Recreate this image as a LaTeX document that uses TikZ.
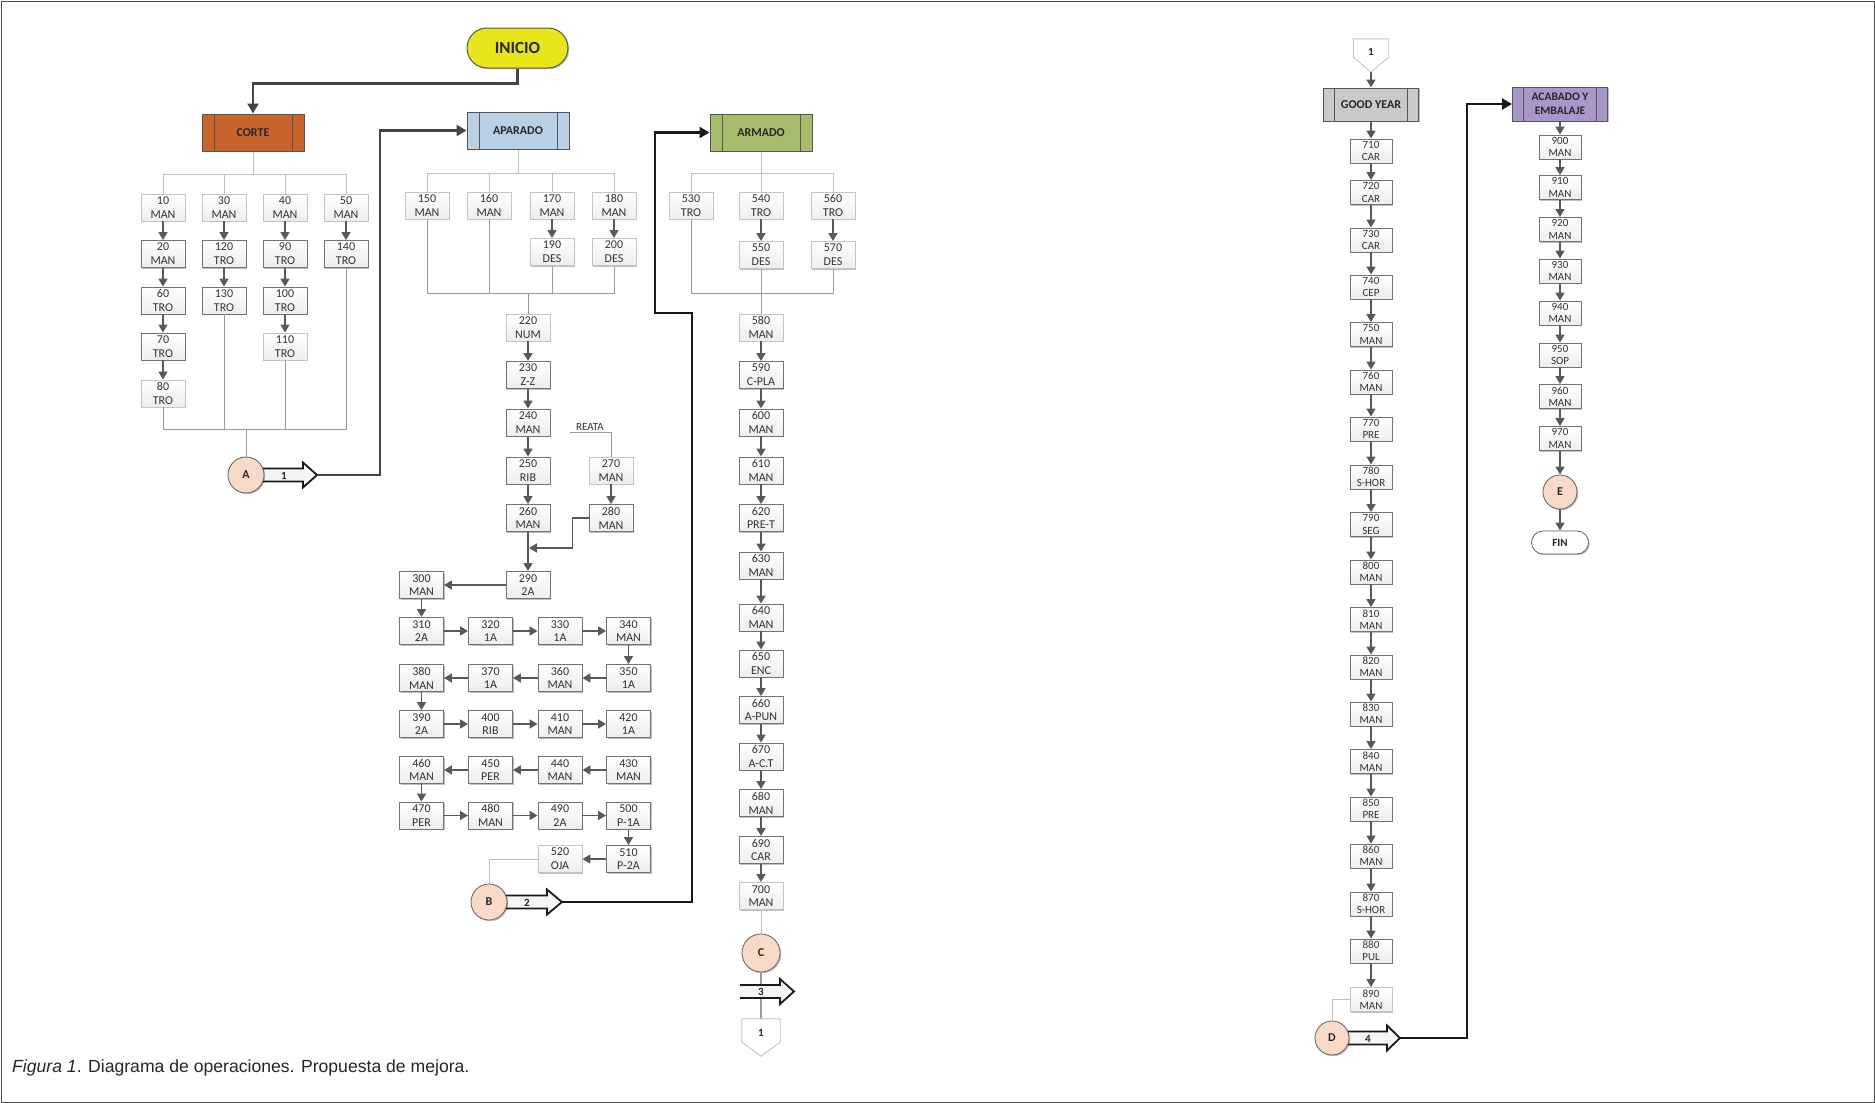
\documentclass[tikz,border=0pt]{standalone}
\usepackage{fontspec}
\setmainfont{Carlito}
\newfontfamily\capfont{Liberation Sans}
\usetikzlibrary{arrows.meta,shadows}
\definecolor{corte}{HTML}{C9642C}
\definecolor{apar}{HTML}{B9D0E7}
\definecolor{arm}{HTML}{A6BC6C}
\definecolor{gyc}{HTML}{C8C9CA}
\definecolor{acab}{HTML}{A997CC}
\definecolor{inicio}{HTML}{E9E51B}
\definecolor{peach}{HTML}{F9DAC6}
\definecolor{arrc}{HTML}{595959}
\definecolor{bigc}{HTML}{454545}
\definecolor{boxd}{HTML}{737373}
\definecolor{boxl}{HTML}{C4C4C4}
\definecolor{boxbot}{HTML}{EDEDED}
\definecolor{tlc}{HTML}{C0C0C0}
\definecolor{tlc2}{HTML}{9A9A9A}
\definecolor{txt}{HTML}{333333}
\definecolor{hdrline}{HTML}{555555}
\definecolor{hdrtxt}{HTML}{262626}
\newcommand\blkarr[5]{%
  \fill[blkfill] (#1,#4-6.5) -- (#2,#4-6.5) -- (#2,#4-12.5) -- (#3,#4) -- (#2,#4+12.5) -- (#2,#4+6.5) -- (#1,#4+6.5) -- cycle;
  \draw[blkline] (#1,#4-6.5) -- (#2,#4-6.5) -- (#2,#4-12.5) -- (#3,#4) -- (#2,#4+12.5) -- (#2,#4+6.5) -- (#1,#4+6.5);
  \coordinate (#5) at (#3,#4);}
\begin{document}
\begin{tikzpicture}[x=1pt,y=-1pt,
  shd/.style={drop shadow={shadow xshift=1.2pt,shadow yshift=-1.2pt,opacity=0.25,fill=black}},
  opbox/.style={rectangle,draw=boxd,line width=0.9pt,top color=white,bottom color=boxbot,
    minimum width=44pt,minimum height=27pt,inner sep=0pt,align=center,
    font=\fontsize{12}{13.8}\selectfont,text=txt,shd},
  lbox/.style={opbox,draw=boxl},
  sbox/.style={opbox,minimum width=42pt,minimum height=24pt,font=\fontsize{11}{12.2}\selectfont},
  slbox/.style={sbox,draw=boxl},
  sect/.style={rectangle,draw=hdrline,line width=1pt,minimum width=102pt,minimum height=37pt,
    inner sep=1pt,align=center,font=\bfseries\fontsize{12}{14}\selectfont,text=hdrtxt,shd,
    path picture={\draw[hdrline,line width=1pt]
      ([xshift=#1]path picture bounding box.north west) -- ([xshift=#1]path picture bounding box.south west)
      ([xshift=-#1]path picture bounding box.north east) -- ([xshift=-#1]path picture bounding box.south east);}},
  sect/.default=12pt,
  circ/.style={circle,draw=gray!75!black,line width=0.8pt,fill=peach,minimum size=36pt,inner sep=0pt,
    font=\bfseries\fontsize{12}{13}\selectfont,text=hdrtxt,shd},
  arr/.style={draw=arrc,line width=1.6pt,-{Triangle[length=8pt,width=9pt]}},
  big/.style={draw=bigc,line width=2.2pt,-{Triangle[length=10pt,width=11pt]}},
  bigk/.style={draw=black!90,line width=2.4pt,-{Triangle[length=10pt,width=11pt]}},
  tl/.style={draw=tlc,line width=0.9pt},
  tl2/.style={draw=tlc2,line width=0.9pt},
  blkfill/.style={fill=gray!8},
  blkline/.style={draw=black!90,line width=1.8pt,line join=miter},
  lbl/.style={font=\bfseries\fontsize{11}{12}\selectfont,text=hdrtxt,inner sep=0pt},
  offp/.style={draw=boxl,line width=0.9pt,fill=white}
]
\useasboundingbox (0,0) rectangle (1875,1103);
\draw[gray!60!black,line width=1pt] (1,1) rectangle (1874,1102);

% ---------- headers ----------
\node[draw=hdrline,line width=1pt,fill=inicio,rounded corners=20pt,minimum width=101pt,minimum height=40pt,
  font=\bfseries\fontsize{17}{19}\selectfont,text=black!85,shd] (inicio) at (517.5,48) {INICIO};
\node[sect,fill=corte] (corte) at (253,132.5) {CORTE};
\node[sect,fill=apar] (aparado) at (518,130.5) {APARADO};
\node[sect,fill=arm] (armado) at (761,132.5) {ARMADO};
\node[sect=11pt,fill=gyc,minimum width=95pt,minimum height=33pt] (gy) at (1371,104.5) {GOOD YEAR};
\node[sect=11pt,fill=acab,minimum width=95pt,minimum height=34pt,font=\bfseries\fontsize{11.5}{13.5}\selectfont] (acab) at (1560,104) {ACABADO Y\\EMBALAJE};

% ---------- CORTE ----------
\node[lbox] (n10) at (163,207.5) {10\\MAN};
\node[opbox] (n20) at (163,254) {20\\MAN};
\node[opbox] (n60) at (163,300.5) {60\\TRO};
\node[opbox] (n70) at (163,346.5) {70\\TRO};
\node[lbox] (n80) at (163,393.5) {80\\TRO};
\node[lbox] (n30) at (224,207.5) {30\\MAN};
\node[opbox] (n120) at (224,254) {120\\TRO};
\node[opbox] (n130) at (224,300.5) {130\\TRO};
\node[lbox] (n40) at (285,207.5) {40\\MAN};
\node[opbox] (n90) at (285,254) {90\\TRO};
\node[opbox] (n100) at (285,300.5) {100\\TRO};
\node[lbox] (n110) at (285,346.5) {110\\TRO};
\node[lbox] (n50) at (346,207.5) {50\\MAN};
\node[opbox] (n140) at (346,254) {140\\TRO};

% ---------- APARADO ----------
\node[lbox] (n150) at (427,205.5) {150\\MAN};
\node[lbox] (n160) at (489,205.5) {160\\MAN};
\node[lbox] (n170) at (552,205.5) {170\\MAN};
\node[lbox] (n180) at (614,205.5) {180\\MAN};
\node[lbox] (n190) at (552,252) {190\\DES};
\node[lbox] (n200) at (614,252) {200\\DES};
\node[lbox] (n220) at (528,327.5) {220\\NUM};
\node[opbox] (n230) at (528,375) {230\\Z-Z};
\node[opbox] (n240) at (528,422.5) {240\\MAN};
\node[opbox] (n250) at (528,470.5) {250\\RIB};
\node[opbox] (n260) at (528,518) {260\\MAN};
\node[lbox] (n270) at (611,470.5) {270\\MAN};
\node[opbox] (n280) at (611,518) {280\\MAN};
\node[opbox] (n290) at (528,585) {290\\2A};
\node[opbox] (n300) at (421.5,585) {300\\MAN};
\node[opbox] (n310) at (421.5,631) {310\\2A};
\node[opbox] (n320) at (490.5,631) {320\\1A};
\node[opbox] (n330) at (560,631) {330\\1A};
\node[opbox] (n340) at (628.5,631) {340\\MAN};
\node[opbox] (n380) at (421.5,678) {380\\MAN};
\node[opbox] (n370) at (490.5,678) {370\\1A};
\node[opbox] (n360) at (560,678) {360\\MAN};
\node[opbox] (n350) at (628.5,678) {350\\1A};
\node[opbox] (n390) at (421.5,724) {390\\2A};
\node[opbox] (n400) at (490.5,724) {400\\RIB};
\node[opbox] (n410) at (560,724) {410\\MAN};
\node[opbox] (n420) at (628.5,724) {420\\1A};
\node[opbox] (n460) at (421.5,770) {460\\MAN};
\node[opbox] (n450) at (490.5,770) {450\\PER};
\node[opbox] (n440) at (560,770) {440\\MAN};
\node[opbox] (n430) at (628.5,770) {430\\MAN};
\node[opbox] (n470) at (421.5,815.5) {470\\PER};
\node[opbox] (n480) at (490.5,815.5) {480\\MAN};
\node[opbox] (n490) at (560,815.5) {490\\2A};
\node[opbox] (n500) at (628.5,815.5) {500\\P-1A};
\node[lbox] (n520) at (560,859) {520\\OJA};
\node[opbox] (n510) at (628.5,859) {510\\P-2A};
\node[font=\fontsize{11}{12}\selectfont,text=txt,anchor=base,inner sep=0pt] (reata) at (590,430.5) {REATA};

% ---------- ARMADO ----------
\node[lbox] (n530) at (691,205.5) {530\\TRO};
\node[lbox] (n540) at (761,205.5) {540\\TRO};
\node[lbox] (n560) at (833,205.5) {560\\TRO};
\node[lbox] (n550) at (761,255) {550\\DES};
\node[lbox] (n570) at (833,255) {570\\DES};
\node[lbox] (n580) at (761,327.5) {580\\MAN};
\node[opbox] (n590) at (761,375) {590\\C-PLA};
\node[opbox] (n600) at (761,422.5) {600\\MAN};
\node[opbox] (n610) at (761,470.5) {610\\MAN};
\node[opbox] (n620) at (761,518) {620\\PRE-T};
\node[opbox] (n630) at (761,565.5) {630\\MAN};
\node[opbox] (n640) at (761,617.5) {640\\MAN};
\node[opbox] (n650) at (761,663.5) {650\\ENC};
\node[opbox] (n660) at (761,710) {660\\A-PUN};
\node[opbox] (n670) at (761,756.5) {670\\A-C.T};
\node[opbox] (n680) at (761,803) {680\\MAN};
\node[opbox] (n690) at (761,850) {690\\CAR};
\node[lbox] (n700) at (761,896) {700\\MAN};

% ---------- GOOD YEAR ----------
\foreach \n/\t/\y in {710/CAR/151,720/CAR/192.5,730/CAR/240,740/CEP/287,750/MAN/334.5,760/MAN/382,
  770/PRE/429,780/S-HOR/477,790/SEG/524.5,800/MAN/572,810/MAN/619.5,820/MAN/667,830/MAN/714,
  840/MAN/761.5,850/PRE/809,860/MAN/856,870/S-HOR/904,880/PUL/951}
  \node[sbox] (n\n) at (1371,\y) {\n\\\t};
\node[slbox] (n890) at (1371,999.5) {890\\MAN};

% ---------- ACABADO ----------
\foreach \n/\t/\y in {900/MAN/147,910/MAN/187.5,920/MAN/229.5,930/MAN/271,940/MAN/313,950/SOP/355,
  960/MAN/396.5,970/MAN/438.5}
  \node[sbox] (n\n) at (1560,\y) {\n\\\t};
\node[draw=gray!75!black,line width=0.8pt,fill=white,rounded corners=11.5pt,minimum width=57pt,minimum height=23pt,
  font=\bfseries\fontsize{11}{12}\selectfont,text=hdrtxt,shd] (fin) at (1560,542.5) {FIN};

% ---------- tree lines ----------
\coordinate (ct) at (0,174);
\coordinate (cb) at (0,429);
\coordinate (at) at (0,173);
\coordinate (ab) at (0,293);
\draw[tl] (corte.south) -- (corte.south |- ct);
\draw[tl] (n10.north) |- (n50.north |- ct) -- (n50.north);
\draw[tl] (n30.north) -- (n30.north |- ct);
\draw[tl] (n40.north) -- (n40.north |- ct);
\draw[tl2] (n80.south) |- (n140.south |- cb) -- (n140.south);
\draw[tl2] (n130.south) -- (n130.south |- cb);
\draw[tl2] (n110.south) -- (n110.south |- cb);

\draw[tl] (aparado.south) -- (aparado.south |- at);
\draw[tl] (n150.north) |- (n180.north |- at) -- (n180.north);
\draw[tl] (n160.north) -- (n160.north |- at);
\draw[tl] (n170.north) -- (n170.north |- at);
\draw[tl2] (n150.south) |- (n200.south |- ab) -- (n200.south);
\draw[tl2] (n160.south) -- (n160.south |- ab);
\draw[tl2] (n190.south) -- (n190.south |- ab);
\draw[tl2] (n220.north) -- (n220.north |- ab);

\draw[tl] (armado.south) -- (armado.south |- at);
\draw[tl] (n530.north) |- (n560.north |- at) -- (n560.north);
\draw[tl] (n540.north) -- (n540.north |- at);
\draw[tl2] (n530.south) |- (n570.south |- ab) -- (n570.south);
\draw[tl2] (n550.south) -- (n550.south |- ab);
\draw[tl2] (n580.north) -- (n580.north |- ab);

\coordinate (rl) at (570,432.5);
\draw[tl2] (rl) -| (n270.north);

% ---------- chain arrows ----------
\foreach \a/\b in {10/20,20/60,60/70,70/80,30/120,120/130,40/90,90/100,100/110,50/140,
  170/190,180/200,220/230,230/240,240/250,250/260,260/290,270/280,290/300,300/310,310/320,320/330,
  330/340,340/350,350/360,360/370,370/380,380/390,390/400,400/410,410/420,430/440,440/450,450/460,
  460/470,470/480,480/490,490/500,500/510,510/520,
  540/550,560/570,580/590,590/600,600/610,610/620,620/630,630/640,640/650,650/660,660/670,670/680,680/690,690/700,
  710/720,720/730,730/740,740/750,750/760,760/770,770/780,780/790,790/800,800/810,810/820,820/830,830/840,
  840/850,850/860,860/870,870/880,880/890,
  900/910,910/920,920/930,930/940,940/950,950/960,960/970}
  \draw[arr] (n\a) -- (n\b);
\coordinate (mg) at (529,548);
\draw[arr] (n280.west) -- ++(-16,0) |- (mg);
\draw[arr] (gy) -- (n710);
\draw[arr] (acab) -- (n900);

% ---------- off-page connectors ----------
\node[minimum width=38pt,minimum height=23pt,inner sep=0pt] (off2) at (761,1030.5) {};
\node[minimum width=35pt,minimum height=18pt,inner sep=0pt] (off1) at (1371,48) {};

\node[circ,minimum size=38pt] (C) at (761,953) {C};
\draw[tl] (n700.south) -- (C.north);
\draw[tl2,line width=1.4pt] (C.south) -- (off2.north);

% ---------- block arrows ----------
\blkarr{246}{303}{317}{475}{atip}
\blkarr{489}{547}{562}{902}{btip}
\blkarr{740}{780}{794}{991.5}{ctip}
\blkarr{1332}{1387}{1400}{1038}{dtip}
\node[lbl] (l1) at (284,475.5) {1};
\node[lbl] (l2) at (527,902.5) {2};
\node[lbl] (l3) at (761,992) {3};
\node[lbl] (l4) at (1368,1038.5) {4};

\draw[offp] (off2.north west) -- (off2.north east) -- (off2.south east) -- ([yshift=-14pt]off2.south) -- (off2.south west) -- cycle;
\node[lbl] (o2l) at (761,1033) {1};
\draw[offp] (off1.north west) -- (off1.north east) -- (off1.south east) -- ([yshift=-15pt]off1.south) -- (off1.south west) -- cycle;
\node[lbl] (o1l) at (1371,52) {1};
\draw[arr] ([yshift=-15pt]off1.south) -- (gy.north);

% ---------- circles ----------
\node[circ] (A) at (246,475) {A};
\node[circ] (B) at (489,902) {B};
\node[circ,minimum size=34pt] (D) at (1332,1038) {D};
\node[circ,minimum size=34pt] (E) at (1560,492) {E};
\draw[tl2] (A.north) -- (A.north |- cb);
\draw[tl] (n520.west) -| (B.north);
\draw[tl] (n890.west) -| (D.north);
\draw[arr] (n970) -- (E);
\draw[arr] (E) -- (fin);

% ---------- main connectors ----------
\draw[big] (inicio.south) -- ++(0,15) -| (corte.north);
\draw[big] (atip) -- ++(63,0) |- (aparado.west);
\draw[bigk] (btip) -- ++(130,0) -- ++(0,-589) -- ++(-37,0) |- (armado.west);
\draw[bigk,line width=2pt] (dtip) -- ++(67,0) |- (acab.west);

% ---------- caption ----------
\node[anchor=west,font=\capfont\fontsize{17.6}{20}\selectfont,text=black!85,inner sep=0pt] (cap) at (12,1068)
  {\textit{Figura 1}. Diagrama de operaciones. Propuesta de mejora.};
\end{tikzpicture}
\end{document}
